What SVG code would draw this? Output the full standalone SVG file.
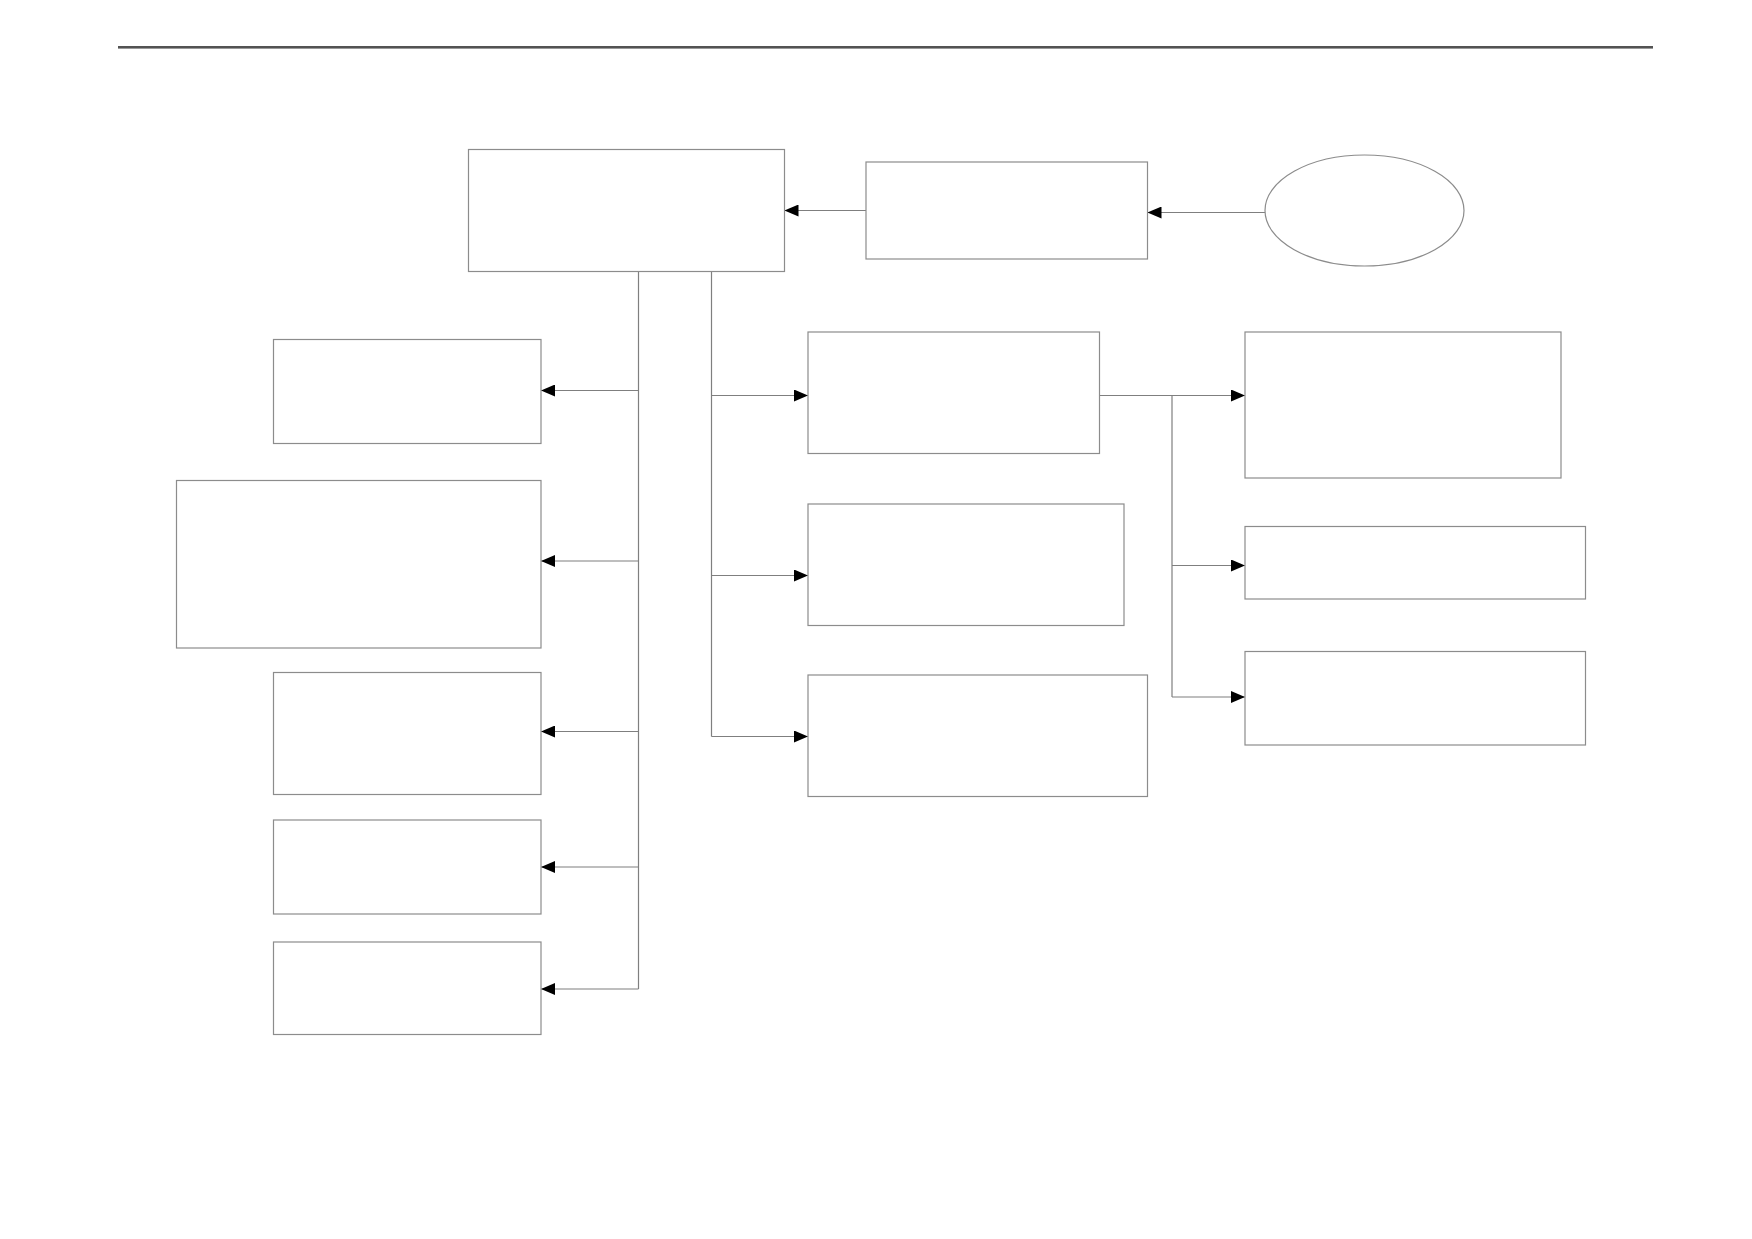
<svg xmlns="http://www.w3.org/2000/svg" width="1752" height="1239" viewBox="0 0 1752 1239">
<style>
.box{fill:#fff;stroke:#8c8c8c;stroke-width:1.2}
.ln{fill:none;stroke:#7f7f7f;stroke-width:1.2}
.arr{fill:none;stroke:#7f7f7f;stroke-width:1.2;marker-end:url(#ah)}
</style>
<defs>
<marker id="ah" markerWidth="14" markerHeight="12" refX="14" refY="6" orient="auto" markerUnits="userSpaceOnUse">
<path d="M0,0 L14,6 L0,12 Z" fill="#000"/>
</marker>
</defs>
<rect width="1752" height="1239" fill="#fff"/>
<line x1="118" y1="47" x2="1653" y2="47" stroke="#1a1a1a" stroke-width="1.5"/>
<line x1="118" y1="48.5" x2="1653" y2="48.5" stroke="#999" stroke-width="1"/>
<g id="connectors">
<line class="arr" x1="866" y1="210.5" x2="784.5" y2="210.5"/>
<line class="arr" x1="1265" y1="212.5" x2="1147.5" y2="212.5"/>
<line class="ln" x1="638.5" y1="271.5" x2="638.5" y2="989"/>
<line class="arr" x1="638.5" y1="390.5" x2="541" y2="390.5"/>
<line class="arr" x1="638.5" y1="561" x2="541" y2="561"/>
<line class="arr" x1="638.5" y1="731.5" x2="541" y2="731.5"/>
<line class="arr" x1="638.5" y1="867" x2="541" y2="867"/>
<line class="arr" x1="638.5" y1="989" x2="541" y2="989"/>
<line class="ln" x1="711.5" y1="271.5" x2="711.5" y2="736.5"/>
<line class="arr" x1="711.5" y1="395.5" x2="808" y2="395.5"/>
<line class="arr" x1="711.5" y1="575.5" x2="808" y2="575.5"/>
<line class="arr" x1="711.5" y1="736.5" x2="808" y2="736.5"/>
<line class="arr" x1="1099.5" y1="395.5" x2="1245" y2="395.5"/>
<line class="ln" x1="1172" y1="395.5" x2="1172" y2="697"/>
<line class="arr" x1="1172" y1="565.5" x2="1245" y2="565.5"/>
<line class="arr" x1="1172" y1="697" x2="1245" y2="697"/>
</g>
<g id="main"><rect class="box" x="468.5" y="149.5" width="316" height="122"/></g>
<g id="source"><rect class="box" x="866" y="162" width="281.5" height="97"/></g>
<g id="start"><ellipse class="box" cx="1364.5" cy="210.5" rx="99.5" ry="55.5"/></g>
<g id="left1"><rect class="box" x="273.5" y="339.5" width="267.5" height="104"/></g>
<g id="left2"><rect class="box" x="176.5" y="480.5" width="364.5" height="167.5"/></g>
<g id="left3"><rect class="box" x="273.5" y="672.5" width="267.5" height="122"/></g>
<g id="left4"><rect class="box" x="273.5" y="820" width="267.5" height="94"/></g>
<g id="left5"><rect class="box" x="273.5" y="942" width="267.5" height="92.5"/></g>
<g id="mid1"><rect class="box" x="808" y="332" width="291.5" height="121.5"/></g>
<g id="mid2"><rect class="box" x="808" y="504" width="316" height="121.5"/></g>
<g id="mid3"><rect class="box" x="808" y="675" width="339.5" height="121.5"/></g>
<g id="right1"><rect class="box" x="1245" y="332" width="316" height="146"/></g>
<g id="right2"><rect class="box" x="1245" y="526.5" width="340.5" height="72.5"/></g>
<g id="right3"><rect class="box" x="1245" y="651.5" width="340.5" height="93.5"/></g>
</svg>
